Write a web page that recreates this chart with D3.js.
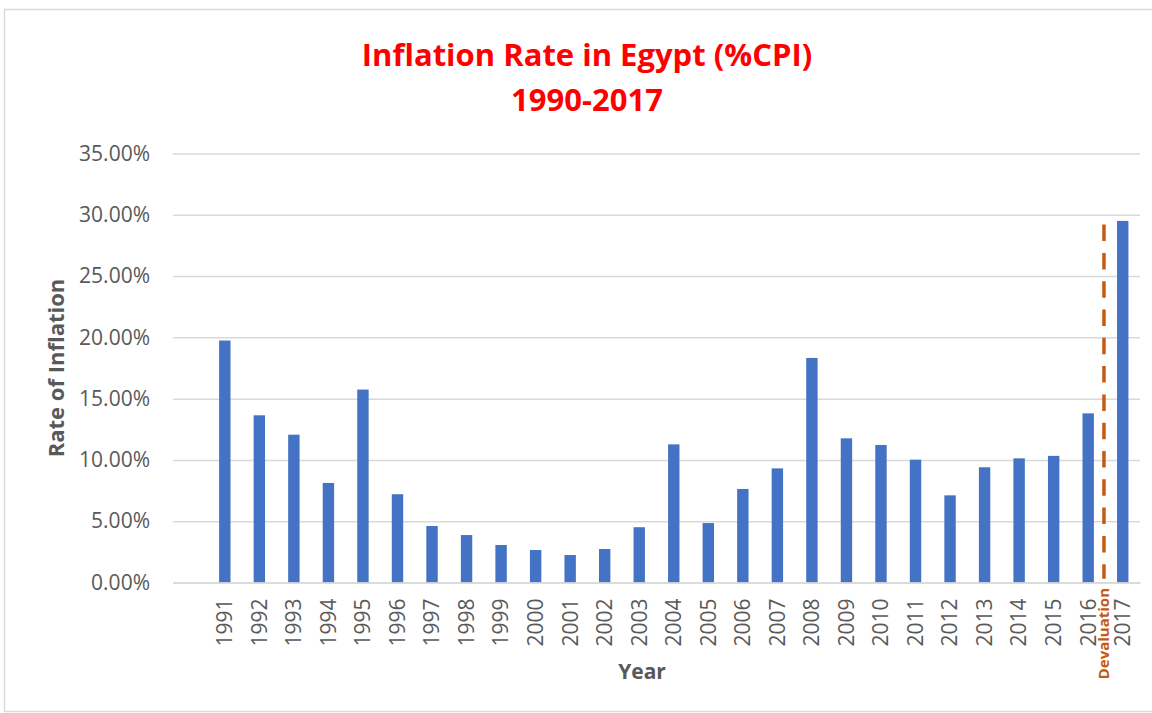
<!DOCTYPE html>
<html>
<head>
	<script lang="javascript" src="https://cdn.jsdelivr.net/npm/d3@7/dist/d3.min.js"></script>
	<style>
		html, body {
			padding: 0;
			margin: 0;
			background-color: white;
		}
		text {
			font-family: "Open Sans", sans-serif;
		}
	</style>
</head>
<body>

	<script>
		var width = 1152;
		var height = 713;

		// data (1990 slot is left empty)
		var years = ['1990', '1991', '1992', '1993', '1994', '1995', '1996', '1997', '1998', '1999',
			'2000', '2001', '2002', '2003', '2004', '2005', '2006', '2007', '2008', '2009',
			'2010', '2011', '2012', '2013', '2014', '2015', '2016', '2017'];
		var inflation = [null, 0.1974, 0.1364, 0.1206, 0.0812, 0.1574, 0.0720, 0.0461, 0.0387, 0.0306,
			0.0265, 0.0224, 0.0273, 0.0451, 0.1127, 0.0485, 0.0763, 0.0931, 0.1832, 0.1176,
			0.1122, 0.1002, 0.0711, 0.0940, 0.1013, 0.1033, 0.1380, 0.2950];
		var yTicks = [0, 0.05, 0.10, 0.15, 0.20, 0.25, 0.30, 0.35];
		var devaluationYear = '2016';
		var devaluationTop = 0.292;

		var svg = d3.select('body').append('svg')
			.attr('width', width)
			.attr('height', height);

		// chart frame
		svg.append('rect')
			.attr('x', 4.5)
			.attr('y', 9.5)
			.attr('width', width)
			.attr('height', 702)
			.attr('fill', 'white')
			.attr('stroke', '#d9d9d9')
			.attr('stroke-width', 1.5);

		var x = d3.scaleBand()
			.domain(years)
			.range([173, 1140])
			.paddingInner(0.67)
			.paddingOuter(0.335);

		var y = d3.scaleLinear()
			.domain([0, 0.35])
			.range([582.5, 153.5]);

		// gridlines + y labels
		var yAxis = svg.append('g')
			.attr('transform', 'translate(173,0)')
			.call(d3.axisLeft(y)
				.tickValues(yTicks)
				.tickSize(-(1140 - 173))
				.tickPadding(23)
				.tickFormat(d3.format('.2%')));
		yAxis.select('.domain').remove();
		yAxis.selectAll('line')
			.attr('stroke', '#d9d9d9')
			.attr('stroke-width', 1.5);
		yAxis.selectAll('text')
			.attr('fill', '#595959')
			.style('font-size', '21px');

		// bars
		svg.append('g').selectAll('rect')
			.data(years.filter(function(d, i) { return inflation[i] != null; }))
			.enter().append('rect')
			.attr('x', function(d) { return x(d); })
			.attr('width', x.bandwidth())
			.attr('y', function(d) { return y(inflation[years.indexOf(d)]); })
			.attr('height', function(d) { return y(0) - y(inflation[years.indexOf(d)]); })
			.attr('fill', '#4472c4');

		// x axis
		var xAxis = svg.append('g')
			.attr('transform', 'translate(0,' + y(0) + ')')
			.call(d3.axisBottom(x)
				.tickSize(0)
				.tickFormat(function(d, i) { return inflation[i] == null ? '' : d; }));
		xAxis.select('.domain')
			.attr('stroke', '#d9d9d9')
			.attr('stroke-width', 1.5);
		xAxis.selectAll('text')
			.attr('fill', '#595959')
			.style('font-size', '21px')
			.attr('text-anchor', 'end')
			.attr('dy', '0.35em')
			.attr('transform', 'translate(0,16) rotate(-90)')
			.attr('y', 0)
			.attr('x', 0);

		// devaluation marker
		var devX = x(devaluationYear) + x.bandwidth() / 2 + x.step() / 2 - 1.5;
		svg.append('line')
			.attr('x1', devX)
			.attr('x2', devX)
			.attr('y1', y(devaluationTop))
			.attr('y2', y(0.003))
			.attr('stroke', '#c55a11')
			.attr('stroke-width', 3.5)
			.attr('stroke-dasharray', '16.5,11.8');

		svg.append('text')
			.attr('transform', 'translate(' + (devX + 5) + ',588) rotate(-90)')
			.attr('text-anchor', 'end')
			.attr('fill', '#c55a11')
			.style('font-size', '15px')
			.style('font-weight', 'bold')
			.text('Devaluation');

		// titles
		svg.append('text')
			.attr('x', 587)
			.attr('y', 66)
			.attr('text-anchor', 'middle')
			.attr('fill', '#ff0000')
			.style('font-size', '31px')
			.style('font-weight', 'bold')
			.text('Inflation Rate in Egypt (%CPI)');

		svg.append('text')
			.attr('x', 587)
			.attr('y', 111)
			.attr('text-anchor', 'middle')
			.attr('fill', '#ff0000')
			.style('font-size', '31px')
			.style('font-weight', 'bold')
			.text('1990-2017');

		svg.append('text')
			.attr('x', 642)
			.attr('y', 679)
			.attr('text-anchor', 'middle')
			.attr('fill', '#595959')
			.style('font-size', '21px')
			.style('font-weight', 'bold')
			.text('Year');

		svg.append('text')
			.attr('transform', 'translate(64,368) rotate(-90)')
			.attr('text-anchor', 'middle')
			.attr('fill', '#595959')
			.style('font-size', '22px')
			.style('font-weight', 'bold')
			.text('Rate of Inflation');
	</script>
</body>
</html>
